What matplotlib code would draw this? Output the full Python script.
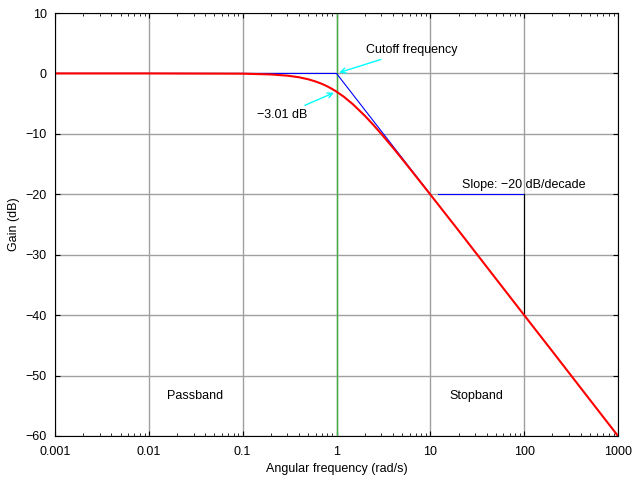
import matplotlib
matplotlib.use("Agg")
import matplotlib.pyplot as plt

plt.rcParams["font.family"] = "Liberation Sans"

# frequency (rad/s) and gain (dB)
freq = [0.001, 0.01, 0.1, 0.2, 0.3, 0.4, 0.5, 0.6, 0.7, 0.8, 0.9, 1, 1.2, 1.5, 2, 2.5, 3, 4, 5, 7, 10, 20, 50, 100, 200, 500, 1000]
gain = [0, 0, -0.04, -0.17, -0.37, -0.64, -0.97, -1.34, -1.73, -2.15, -2.58, -3.01, -3.87, -5.12, -6.99, -8.6, -10.0, -12.3, -14.15, -17.0, -20.04, -26.0, -33.98, -40.0, -46.0, -53.98, -60.0]
asym_f = [0.001, 1, 10]
asym_g = [0, 0, -20]
xticks = [0.001, 0.01, 0.1, 1, 10, 100, 1000]
xlabels = ["0.001", "0.01", "0.1", "1", "10", "100", "1000"]
yticks = [10, 0, -10, -20, -30, -40, -50, -60]

fig = plt.figure(figsize=(6.4, 4.8), dpi=100)
ax = fig.add_axes([55/640, 44/480, 563/640, 423/480])
ax.set_xscale("log")
ax.set_xlim(0.001, 1000)
ax.set_ylim(-60, 10)
ax.grid(True, which="major", color="#a0a0a0", lw=1)
ax.set_xticks(xticks)
ax.set_xticklabels(xlabels)
ax.set_yticks(yticks)
ax.set_yticklabels([str(v).replace("-", "\u2212") for v in yticks])
ax.tick_params(which="both", direction="in", top=True, right=True, labelsize=9)
ax.tick_params(axis="x", pad=7)
ax.tick_params(axis="y", pad=6)

ax.axvline(1, color="#40b040", lw=1)
ax.plot(asym_f, asym_g, color="blue", lw=0.8)
ax.plot([12, 100], [-20, -20], color="blue", lw=0.8)
ax.plot([100, 100], [-20, -40], color="black", lw=0.8)
ax.plot(freq, gain, color="red", lw=1.5)

arrow = dict(arrowstyle="->", color="cyan", lw=1)
ax.annotate("Cutoff frequency", xy=(1, 0), xytext=(2.05, 3.9), fontsize=9,
            va="center", arrowprops=arrow)
ax.annotate("\u22123.01 dB", xy=(1, -3.01), xytext=(0.142, -6.9), fontsize=9,
            va="center", arrowprops=arrow)
ax.text(22, -18.5, "Slope: \u221220 dB/decade", fontsize=9, va="center")
ax.text(0.0156, -53.3, "Passband", fontsize=9, va="center")
ax.text(16, -53.3, "Stopband", fontsize=9, va="center")

ax.set_xlabel("Angular frequency (rad/s)", fontsize=9)
ax.set_ylabel("Gain (dB)", fontsize=9)
fig.savefig("out.png")
